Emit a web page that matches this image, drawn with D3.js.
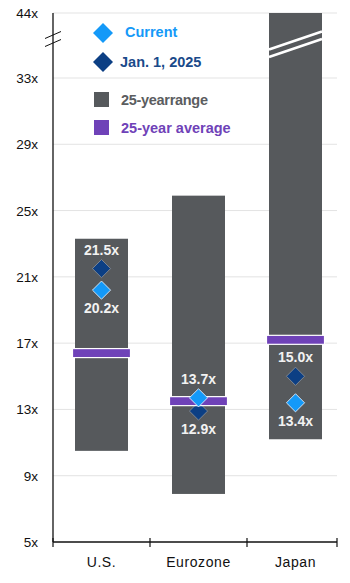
<!DOCTYPE html>
<html><head><meta charset="utf-8">
<script src="https://cdn.jsdelivr.net/npm/d3@7"></script>
<style>body{margin:0;background:#fff}svg{display:block;font-family:"Liberation Sans",Arial,sans-serif}</style>
</head><body><svg id="c" width="350" height="583"></svg>
<script>
const categories = ["U.S.", "Eurozone", "Japan"];
const rangeLow = [10.5, 7.9, 11.2];
const rangeHigh = [23.3, 25.9, 44];
const average = [16.4, 13.5, 17.2];
const current = [20.2, 13.7, 13.4];
const jan2025 = [21.5, 12.9, 15.0];
const tickValues = [5, 9, 13, 17, 21, 25, 29, 33, 44];
const tickLabels = ["5x","9x","13x","17x","21x","25x","29x","33x","44x"];
const legendLabels = ["Current", "Jan. 1, 2025", "25-yearrange", "25-year average"];

const C = {bar:"#56595c", avg:"#6f42b8", cur:"#1499f8", jan:"#0c3f84", grid:"#e3e3e3"};
const svg = d3.select("#c");
const L = 53, R = 337, T = 13, B = 542;
const y = d3.scaleLinear().domain([5, 33, 44]).range([B, 78, T]);
const x = d3.scaleBand().domain(categories).range([L, 344]);
const bw = 53;

// grid
svg.append("g").selectAll("line").data(tickValues.slice(1)).join("line")
  .attr("x1", L).attr("x2", R).attr("y1", d => y(d)).attr("y2", d => y(d))
  .attr("stroke", C.grid).attr("stroke-width", 1);

// tick labels
svg.append("g").selectAll("text").data(tickValues).join("text")
  .attr("x", 38).attr("y", d => y(d) + 5).attr("text-anchor", "end")
  .attr("font-size", 13.5).attr("fill", "#111").text((d, i) => tickLabels[i]);

// legend
const lg = svg.append("g");
const dia = (s) => d3.symbol(d3.symbolSquare, s)();
lg.append("path").attr("d", dia(200)).attr("transform", "translate(103,33) rotate(45)").attr("fill", C.cur);
lg.append("path").attr("d", dia(200)).attr("transform", "translate(103,62) rotate(45)").attr("fill", C.jan);
lg.append("rect").attr("x", 94).attr("y", 92).attr("width", 15).attr("height", 15).attr("fill", C.bar);
lg.append("rect").attr("x", 94).attr("y", 120).attr("width", 15).attr("height", 15).attr("fill", C.avg);
const lt = [[125, 37, C.cur, 0], [120, 67, "#1a4a8a", 0], [121, 105, "#5b5d60", -0.3], [121, 133, C.avg, 0]];
lg.selectAll("text").data(legendLabels).join("text")
  .attr("x", (d, i) => lt[i][0]).attr("y", (d, i) => lt[i][1]).attr("fill", (d, i) => lt[i][2])
  .attr("letter-spacing", (d, i) => lt[i][3])
  .attr("font-weight", "bold").attr("font-size", 14.5).text(d => d);

const cx = d => x(d) + x.bandwidth() / 2;

// range bars
svg.append("g").selectAll("rect").data(categories).join("rect")
  .attr("x", d => cx(d) - bw / 2).attr("width", bw)
  .attr("y", (d, i) => y(rangeHigh[i])).attr("height", (d, i) => y(rangeLow[i]) - y(rangeHigh[i]))
  .attr("fill", C.bar);

// break on Japan bar
const jx = cx("Japan");
[[49.5, 31.5], [57, 39]].forEach(([a, b]) => {
  svg.append("line").attr("x1", jx - bw / 2).attr("x2", jx + bw / 2).attr("y1", a).attr("y2", b)
    .attr("stroke", "#fff").attr("stroke-width", 2.5);
});

// Jan diamonds
svg.append("g").selectAll("path").data(categories).join("path")
  .attr("d", dia(165)).attr("transform", (d, i) => `translate(${cx(d)},${y(jan2025[i])}) rotate(45)`)
  .attr("fill", C.jan).attr("stroke", "#8a8f96").attr("stroke-width", 0.8);

// average bars
svg.append("g").selectAll("rect").data(categories).join("rect")
  .attr("x", d => cx(d) - 29).attr("width", 58)
  .attr("y", (d, i) => y(average[i]) - 4.5).attr("height", 9)
  .attr("fill", C.avg).attr("stroke", "#fff").attr("stroke-width", 1.2);

// current diamonds
svg.append("g").selectAll("path").data(categories).join("path")
  .attr("d", dia(165)).attr("transform", (d, i) => `translate(${cx(d)},${y(current[i])}) rotate(45)`)
  .attr("fill", C.cur).attr("stroke", "#e8f2ff").attr("stroke-width", 0.8);

// value labels
const lab = [];
categories.forEach((c, i) => {
  const hiJ = jan2025[i] >= current[i];
  lab.push({c, v: jan2025[i], dy: hiJ ? -19 : 18});
  lab.push({c, v: current[i], dy: hiJ ? 18 : -19});
});
svg.append("g").selectAll("text").data(lab).join("text")
  .attr("x", d => cx(d.c)).attr("y", d => y(d.v) + d.dy + 5).attr("text-anchor", "middle")
  .attr("font-size", 14).attr("font-weight", "bold").attr("fill", "#f2f2f2")
  .text(d => d.v.toFixed(1) + "x");

// axes
svg.append("line").attr("x1", L).attr("x2", L).attr("y1", T).attr("y2", B).attr("stroke", "#111").attr("stroke-width", 1.3);
svg.append("line").attr("x1", L).attr("x2", R).attr("y1", B).attr("y2", B).attr("stroke", "#111").attr("stroke-width", 1.3);
const catTicks = [L, x("Eurozone"), x("Japan"), R];
svg.append("g").selectAll("line").data(catTicks).join("line")
  .attr("x1", d => d).attr("x2", d => d).attr("y1", 538).attr("y2", 547).attr("stroke", "#111").attr("stroke-width", 1.2);
svg.append("g").selectAll("text").data(categories).join("text")
  .attr("x", d => cx(d)).attr("y", 567).attr("text-anchor", "middle").attr("font-size", 14)
  .attr("letter-spacing", 0.6).attr("fill", "#111").text(d => d);

// axis break
[35, 43].forEach(yy => {
  svg.append("line").attr("x1", L - 8).attr("x2", L + 8).attr("y1", yy + 3.5).attr("y2", yy - 3.5)
    .attr("stroke", "#111").attr("stroke-width", 1);
});
</script></body></html>
